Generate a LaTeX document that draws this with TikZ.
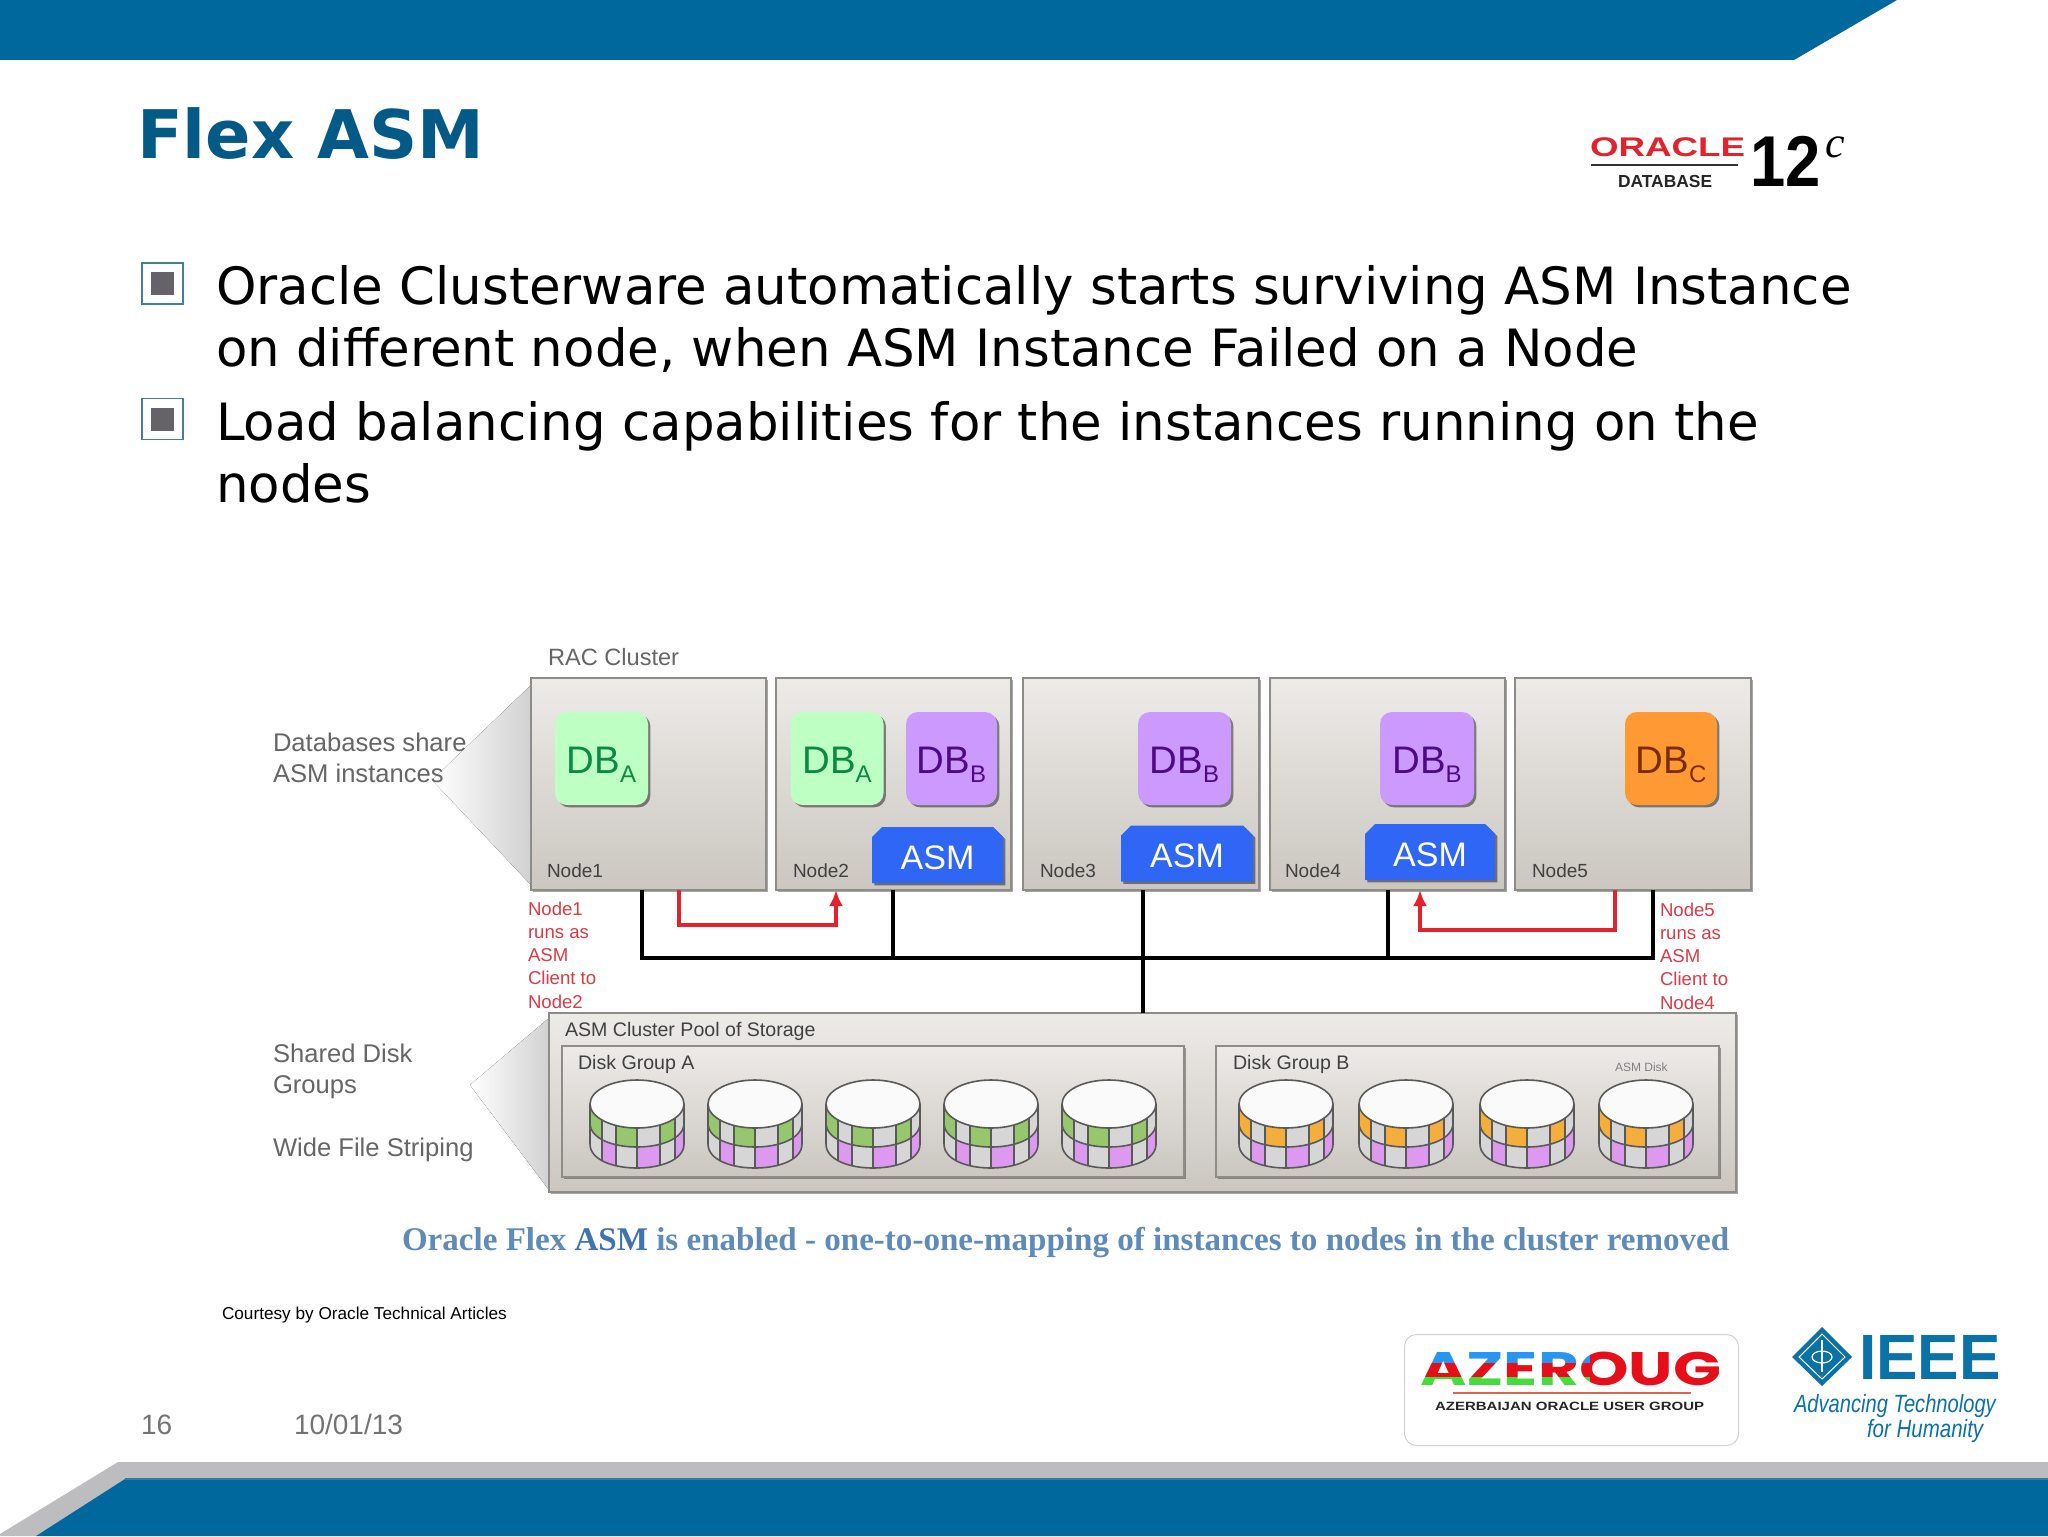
\documentclass[tikz,border=0pt]{standalone}
\usepackage{fontspec}
\setmainfont{Liberation Sans}
\newfontfamily\verdfam{DejaVu Sans}
\newfontfamily\capfam{Liberation Serif}
\newfontfamily\popfam{Poppins}
\usetikzlibrary{shapes.misc,shadows,arrows.meta}
\definecolor{barblue}{HTML}{00689C}
\definecolor{barline}{HTML}{3878AE}
\definecolor{titleblue}{HTML}{035A87}
\definecolor{bargray}{HTML}{BDBCBE}
\definecolor{txtgray}{HTML}{666666}
\definecolor{nodetop}{HTML}{EDEBE8}
\definecolor{nodebot}{HTML}{CBC6C0}
\definecolor{edgegray}{HTML}{8E8C88}
\definecolor{asmblue}{HTML}{2F66F5}
\definecolor{redlab}{HTML}{DC3A44}
\definecolor{redline}{HTML}{E3232B}
\definecolor{dgreen}{HTML}{96C76C}
\definecolor{dorange}{HTML}{F5AE3B}
\definecolor{dpink}{HTML}{DD99F0}
\definecolor{dgray}{HTML}{D6D6D6}
\definecolor{ieeeblue}{HTML}{0B72A8}
\definecolor{capblue}{HTML}{5F8BB8}
\definecolor{capdark}{HTML}{3F74AE}
\definecolor{bulledge}{HTML}{3F7FA6}
\definecolor{bullfill}{HTML}{666368}
\definecolor{dbafill}{HTML}{BEFFC4}
\definecolor{dbatext}{HTML}{0B8A44}
\definecolor{dbbfill}{HTML}{CC99FF}
\definecolor{dbbtext}{HTML}{4E0A85}
\definecolor{dbcfill}{HTML}{FF9933}
\definecolor{dbctext}{HTML}{7A2E00}
\definecolor{azblue}{HTML}{2896F0}
\definecolor{azred}{HTML}{E60F19}
\definecolor{azgreen}{HTML}{46DC3C}
\definecolor{azline}{HTML}{E06060}
\newcommand\fpx[2]{\fontsize{#1}{#2}\selectfont}
\newcommand\subl[1]{\raisebox{-4.5pt}{\fpx{12}{13}#1}}
\newcommand\flexdisk[2]{%
  \begin{scope}[shift={(#1,1104)}]
    \begin{scope}
      \clip (-47,0) -- (-47,40) .. controls (-47,72) and (47,72) .. (47,40) -- (47,0) -- cycle;
      \fill[dgray] (-47,0) rectangle (47,70);
      \fill[dpink] (-35,0) rectangle (-21,70);
      \fill[dpink] (0,0) rectangle (23,70);
      \fill[dpink] (38,0) rectangle (47,70);
      \begin{scope}
        \clip (-47,-1) -- (-47,19) .. controls (-47,51) and (47,51) .. (47,19) -- (47,-1) -- cycle;
        \fill[dgray] (-47,0) rectangle (47,70);
        \fill[#2] (-47,0) rectangle (-35,70);
        \fill[#2] (-21,0) rectangle (0,70);
        \fill[#2] (23,0) rectangle (38,70);
      \end{scope}
      \foreach \xo in {-35,-21,0,23,38}
        \draw[diskline] (\xo,0) -- (\xo,70);
      \draw[diskline] (-47,19) .. controls (-47,51) and (47,51) .. (47,19);
    \end{scope}
    \draw[diskline] (-47,0) -- (-47,40) .. controls (-47,72) and (47,72) .. (47,40) -- (47,0);
    \draw[diskline,fill=white!98!black] (0,0) ellipse [x radius=47,y radius=24];
  \end{scope}}
\tikzset{
  diskline/.style={draw=black!65,line width=.8pt},
  lab/.style={inner sep=0pt,outer sep=0pt,anchor=west,text=txtgray,align=left},
  baselab/.style={inner sep=0pt,outer sep=0pt,anchor=base west},
  bodytext/.style={baselab,font=\verdfam\fpx{25.7}{31},text=black},
  nodelab/.style={lab,text=black!75,font=\fpx{9.5}{11}},
  redtext/.style={lab,text=redlab,font=\fpx{9.3}{11.6}},
  panel/.style={draw=edgegray,line width=.9pt,outer sep=0pt,top color=nodetop,bottom color=nodebot,anchor=north west,inner sep=0pt,
    drop shadow={shadow xshift=1pt,shadow yshift=-1.2pt,opacity=.35,fill=black}},
  dbbox/.style={rounded corners=6pt,inner sep=0pt,text height=20pt,text depth=5.5pt,font=\fpx{19.2}{21},minimum height=46.5pt,
    drop shadow={shadow xshift=1.2pt,shadow yshift=-1.2pt,opacity=.45,fill=black}},
  dba/.style={dbbox,fill=dbafill,text=dbatext,minimum width=46.5pt},
  dbb/.style={dbbox,fill=dbbfill,text=dbbtext},
  dbc/.style={dbbox,fill=dbcfill,text=dbctext,minimum width=46pt},
  asmbox/.style={chamfered rectangle,chamfered rectangle corners={north east,north west},chamfered rectangle xsep=2.5pt,chamfered rectangle ysep=2.5pt,
    fill=asmblue,text=white,inner sep=0pt,font=\fpx{17}{19},minimum height=28pt,text height=14pt,text depth=0pt,
    drop shadow={shadow xshift=1.2pt,shadow yshift=-1.2pt,opacity=.45,fill=black}},
  bus/.style={line width=2pt,black},
  redarrow/.style={line width=1.9pt,redline,-{Latex[length=8pt,width=7pt]}},
  smalllab/.style={lab,text=black!75,font=\fpx{9.8}{11}},
  wedge/.style={left color=white,right color=black!18,draw=none},
  bulletout/.style={draw=bulledge,line width=.6pt,fill=white,inner sep=0,minimum size=20.5pt},
  bulletin/.style={fill=bullfill,inner sep=0,minimum size=11.5pt},
}
\begin{document}
\begin{tikzpicture}[x=.5pt,y=-.5pt]
\useasboundingbox (0,0) rectangle (2048,1536);
\fill[white] (0,0) rectangle (2048,1536);
% bars
\fill[barblue] (0,0) -- (1897,0) -- (1794,60) -- (0,60) -- cycle;
\fill[bargray] (118,1462) -- (2048,1462) -- (2048,1482) -- (125,1482) -- (36,1536) -- (0,1536) -- (0,1534) -- cycle;
\fill[barblue] (125,1479) -- (2048,1479) -- (2048,1536) -- (36,1536) -- cycle;
\fill[barline] (125,1478) rectangle (2048,1480);
% title and bullets
\node[baselab,font=\verdfam\bfseries\fpx{33.5}{36},text=titleblue] (title) at (137,158) {Flex ASM};
\node[bulletout] (bullA) at (162.5,283.5) {};
\node[bulletin] (bullAi) at (162.5,283.5) {};
\node[bulletout] (bullB) at (162.5,419) {};
\node[bulletin] (bullBi) at (162.5,419) {};
\node[bodytext] (t1) at (216,304) {Oracle Clusterware automatically starts surviving ASM Instance};
\node[bodytext] (t2) at (216,366) {on different node, when ASM Instance Failed on a Node};
\node[bodytext] (t3) at (216,440) {Load balancing capabilities for the instances running on the};
\node[bodytext] (t4) at (216,502) {nodes};
% Oracle logo
\node[baselab,font=\bfseries\fpx{13.5}{15},text=redline,xscale=1.36] (orc) at (1590,156) {ORACLE};
\coordinate (orcL) at (1591,165); \coordinate (orcR) at (1738,165);
\draw[black!80,line width=.6pt] (orcL) -- (orcR);
\node[baselab,font=\bfseries\fpx{8.7}{10},text=black!85] (orcdb) at (1618,187) {DATABASE};
\node[baselab,font=\bfseries\fpx{36}{38},xscale=.88] (ortw) at (1750,186) {12};
\node[baselab,font=\capfam\itshape\fpx{22}{24}] (orcc) at (1825,157) {c};
% wedges
\fill[wedge] (432,780) -- (531,685) -- (531,885) -- cycle;
\fill[wedge] (470,1085) -- (549,1018) -- (549,1190) -- cycle;
% left labels
\node[lab,font=\fpx{12.8}{15.5}] (ldb) at (273,758) {Databases share\\ASM instances};
\node[lab,font=\fpx{12.8}{15.5}] (lsh) at (273,1071.5) {Shared Disk\\Groups};
\node[lab,font=\fpx{12.8}{15.5}] (lws) at (273,1149.5) {Wide File Striping};
\node[lab,font=\fpx{11.8}{14}] (lrac) at (548,657) {RAC Cluster};
% cluster panels
\node[panel,minimum width=117.5pt,minimum height=106pt] (n1) at (531,678) {};
\node[panel,minimum width=117.5pt,minimum height=106pt] (n2) at (776,678) {};
\node[panel,minimum width=118pt,minimum height=106pt] (n3) at (1023,678) {};
\node[panel,minimum width=117.5pt,minimum height=106pt] (n4) at (1270,678) {};
\node[panel,minimum width=118pt,minimum height=106pt] (n5) at (1515,678) {};
\node[nodelab] (ln1) at (547,871) {Node1};
\node[nodelab] (ln2) at (793,871) {Node2};
\node[nodelab] (ln3) at (1040,871) {Node3};
\node[nodelab] (ln4) at (1285,871) {Node4};
\node[nodelab] (ln5) at (1532,871) {Node5};
% DB boxes
\node[dba] (dbA1) at (601.5,758.5) {DB\subl{A}};
\node[dba] (dbA2) at (837,758.5) {DB\subl{A}};
\node[dbb,minimum width=45.5pt] (dbB2) at (951.5,758.5) {DB\subl{B}};
\node[dbb,minimum width=46.5pt] (dbB3) at (1184.5,758.5) {DB\subl{B}};
\node[dbb,minimum width=47pt] (dbB4) at (1427,758.5) {DB\subl{B}};
\node[dbc] (dbC) at (1671,758.5) {DB\subl{C}};
% ASM boxes
\node[asmbox,minimum width=65.5pt] (as2) at (937.5,855) {ASM};
\node[asmbox,minimum width=66pt] (as3) at (1187,853.5) {ASM};
\node[asmbox,minimum width=65pt] (as4) at (1430,852) {ASM};
% storage
\node[panel,minimum width=593.5pt,minimum height=89.5pt] (st) at (549,1013) {};
\node[panel,minimum width=311pt,minimum height=65.5pt] (dga) at (562,1046) {};
\node[panel,minimum width=251.5pt,minimum height=65.5pt] (dgb) at (1216,1046) {};
\node[smalllab] (lst) at (565,1031) {ASM Cluster Pool of Storage};
\node[smalllab] (lga) at (578,1064) {Disk Group A};
\node[smalllab] (lgb) at (1233,1064) {Disk Group B};
\node[lab,text=black!50,font=\fpx{6}{7}] (lad) at (1615,1067) {ASM Disk};
\flexdisk{637}{dgreen}\flexdisk{755}{dgreen}\flexdisk{873}{dgreen}\flexdisk{991}{dgreen}\flexdisk{1109}{dgreen}
\flexdisk{1286}{dorange}\flexdisk{1406}{dorange}\flexdisk{1527}{dorange}\flexdisk{1646}{dorange}
% bus
\coordinate (busL) at (642,958);
\coordinate (busR) at (1653,958);
\coordinate (j2) at (893,958);
\coordinate (j3) at (1143,958);
\coordinate (j4) at (1388,958);
\draw[bus] (n1.south -| busL) -- (busL) -- (busR) -- (n5.south -| busR);
\draw[bus] (n2.south -| j2) -- (j2);
\draw[bus] (n3.south -| j3) -- (st.north -| j3);
\draw[bus] (n4.south -| j4) -- (j4);
% red arrows
\coordinate (ra) at (679,925); \coordinate (rb) at (836,925);
\coordinate (rc) at (1615,930); \coordinate (rd) at (1420,930);
\draw[redarrow] (n1.south -| ra) -- (ra) -- (rb) -- (n2.south -| rb);
\draw[redarrow] (n5.south -| rc) -- (rc) -- (rd) -- (n4.south -| rd);
% red labels
\node[redtext] (rl) at (528,955) {Node1\\runs as\\ASM\\Client to\\Node2};
\node[redtext] (rr) at (1660,956) {Node5\\runs as\\ASM\\Client to\\Node4};
% caption
\node[baselab,font=\capfam\bfseries\fpx{16.53}{18},text=capblue] (cap) at (402,1250) {Oracle Flex {\color{capdark}ASM} is enabled - one-to-one-mapping of instances to nodes in the cluster removed};
\node[lab,text=black,font=\fpx{8.6}{10}] (court) at (222,1315) {Courtesy by Oracle Technical Articles};
\node[baselab,text=black!55,font=\fpx{14}{15}] (pg) at (141,1434) {16};
\node[baselab,text=black!55,font=\fpx{14}{15}] (dt) at (294,1434) {10/01/13};
% AZEROUG
\node[draw=black!18,line width=.5pt,fill=white,rounded corners=6pt,inner sep=0,anchor=north west,minimum width=167pt,minimum height=55.5pt] (azbox) at (1404,1334) {};
\node[baselab,font=\popfam\bfseries\fpx{23.5}{26},xscale=1.34] (az) at (1420,1385) {AZEROUG};
\begin{scope}[blend mode=screen]
  \fill[azblue] (1416,1348) rectangle (1590,1363);
  \fill[azred] (1416,1363) rectangle (1590,1377);
  \fill[azgreen] (1416,1377) rectangle (1590,1392);
  \fill[azred] (1590,1348) rectangle (1725,1392);
\end{scope}
\coordinate (azl) at (1453,1393); \coordinate (azr) at (1691,1393);
\draw[azline,line width=.6pt] (azl) -- (azr);
\node[lab,text=black!85,font=\bfseries\fpx{6}{7},xscale=1.25] (azs) at (1435,1406) {AZERBAIJAN ORACLE USER GROUP};
% IEEE
\node[baselab,font=\bfseries\fpx{32}{34},text=ieeeblue,xscale=.97] (ieee) at (1859,1379) {IEEE};
\fill[ieeeblue] (1822,1327) -- (1852,1357) -- (1822,1386) -- (1792,1357) -- cycle;
\draw[white,line width=.5pt] (1822,1334) -- (1845,1357) -- (1822,1379) -- (1799,1357) -- cycle;
\draw[white,line width=.8pt] (1822,1340) -- (1822,1372);
\draw[white,line width=.6pt] (1822,1357) ellipse [x radius=10,y radius=6];
\node[baselab,text=ieeeblue,font=\itshape\fpx{12.5}{14},xscale=.805] (iea) at (1794,1412) {Advancing Technology};
\node[baselab,text=ieeeblue,font=\itshape\fpx{12.5}{14},xscale=.82] (ieb) at (1867,1437) {for Humanity};
\end{tikzpicture}
\end{document}
